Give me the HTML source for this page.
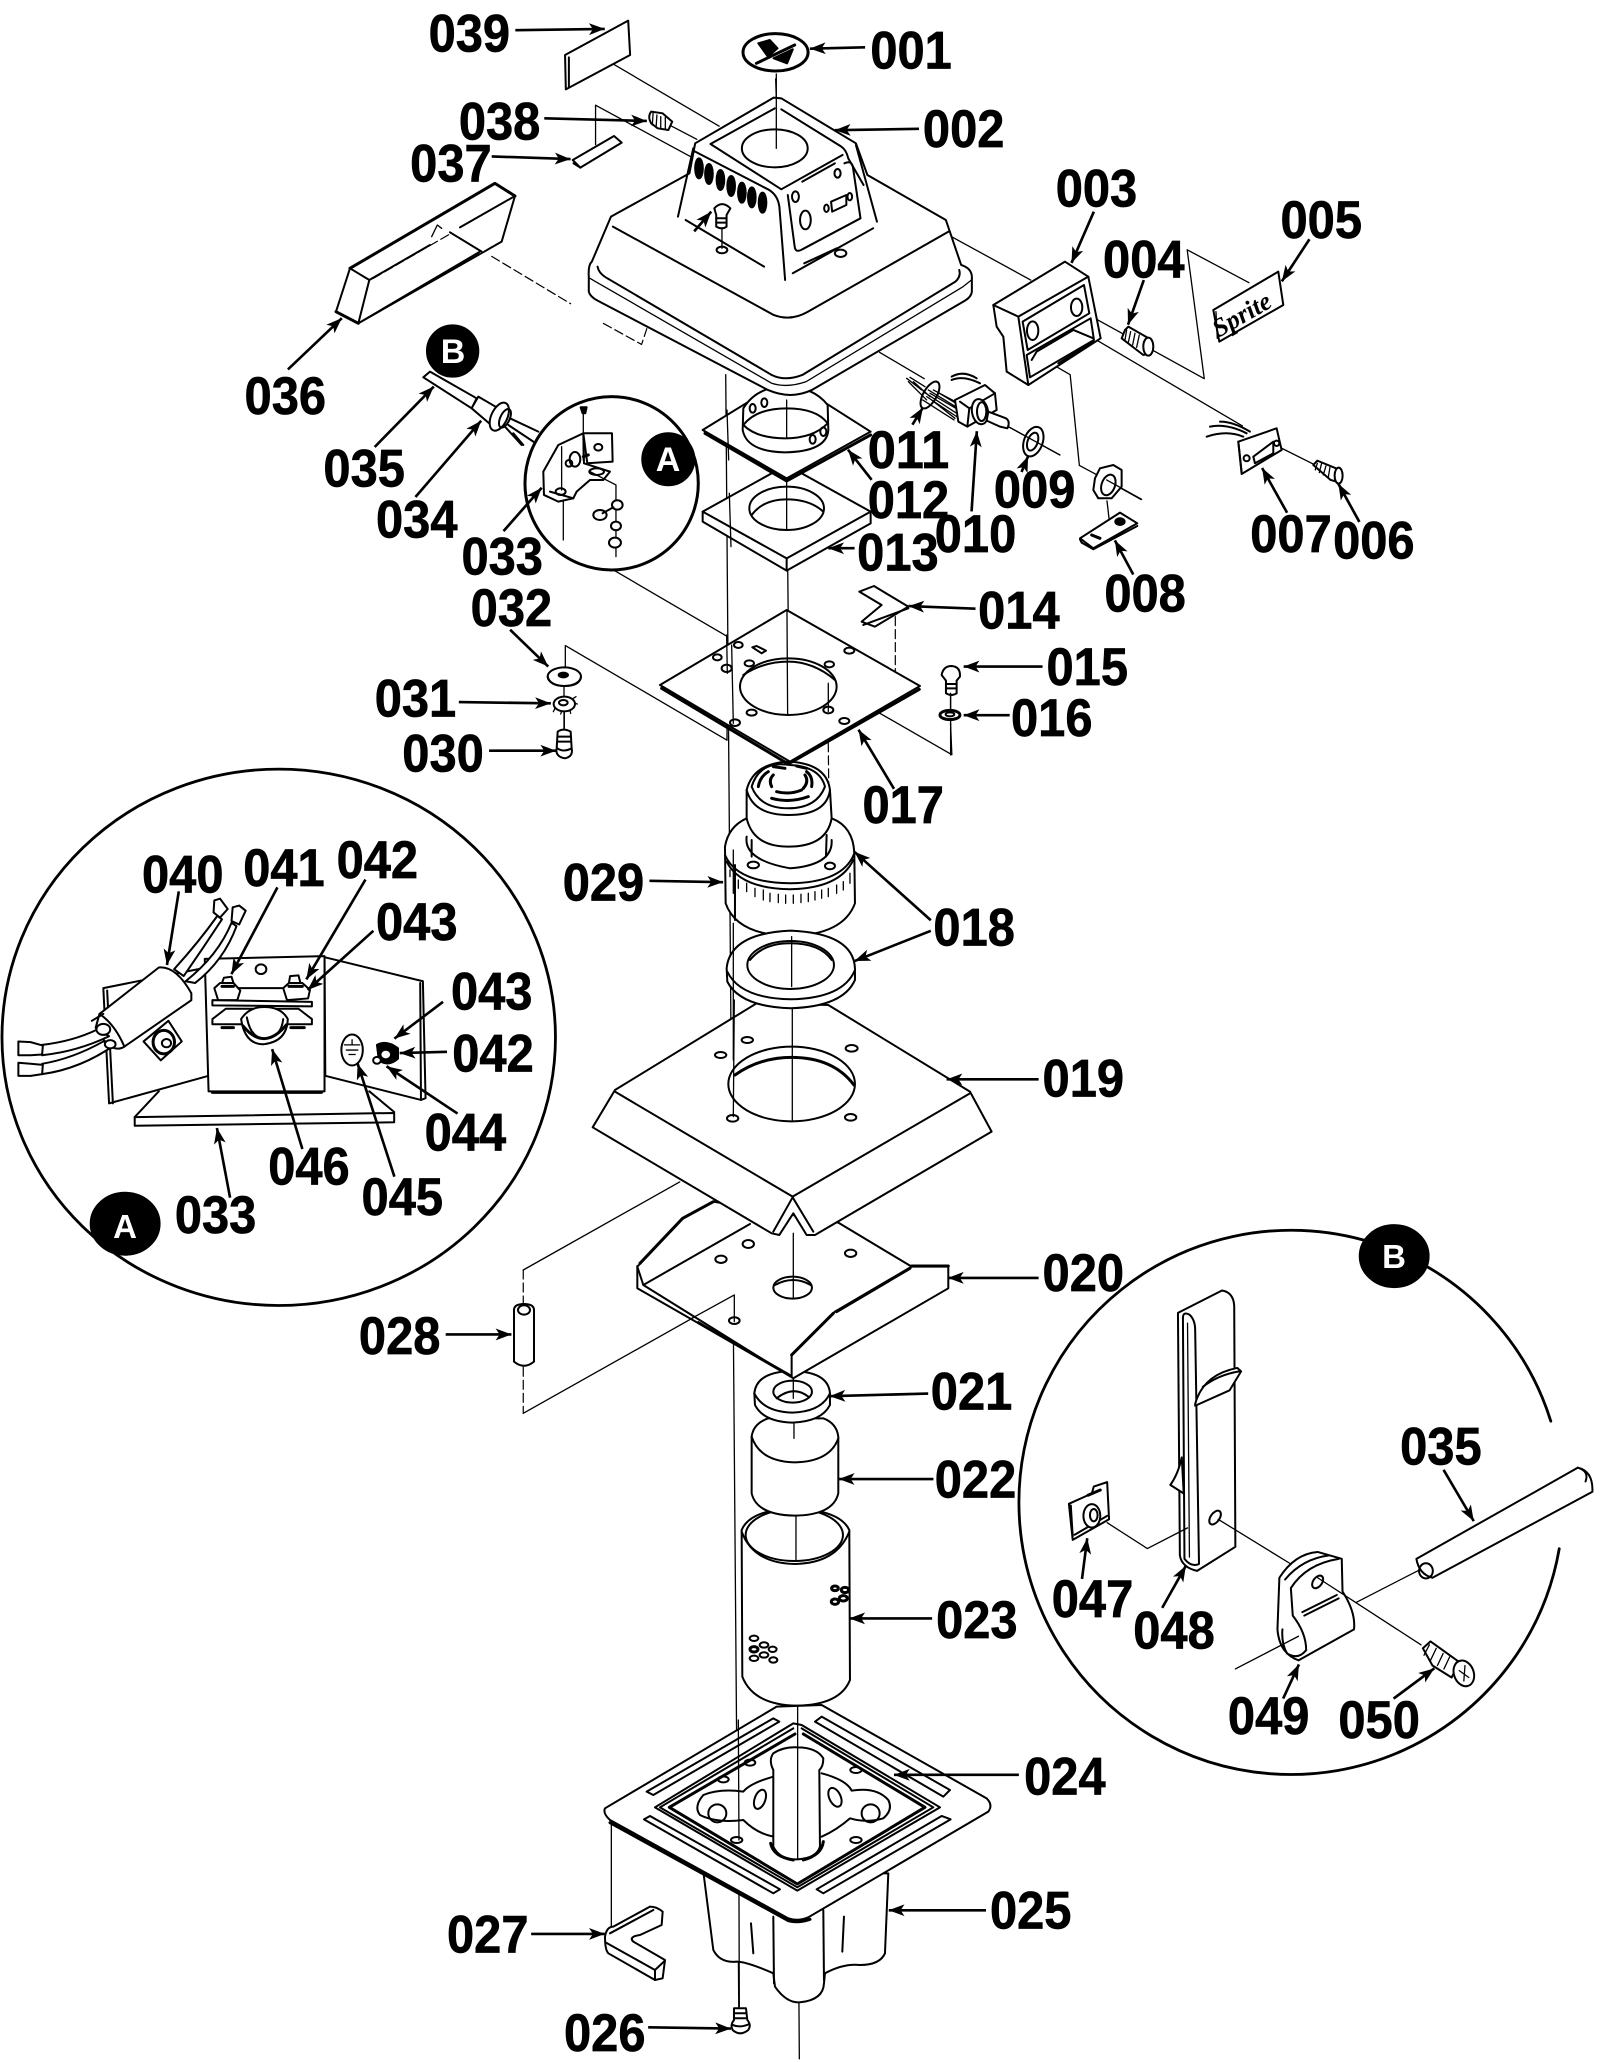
<!DOCTYPE html>
<html><head><meta charset="utf-8"><title>Exploded parts diagram</title>
<style>
html,body{margin:0;padding:0;background:#fff}
svg{display:block}
.p{fill:none;stroke:#000;stroke-width:2;stroke-linejoin:round;stroke-linecap:round}
.p *{vector-effect:non-scaling-stroke}
.p .w{fill:#fff}.p .b{fill:#000}.p .t{stroke-width:1.3}.p .k{stroke-width:3}.p .d{stroke-dasharray:9 4;stroke-width:1.2}
.a line{stroke:#000;stroke-width:2;marker-end:url(#ah)}
.l text{font:bold 40px "Liberation Sans",sans-serif;fill:#000;stroke:#000;stroke-width:.5}
.bd{font:bold 34px "Liberation Sans",sans-serif;fill:#fff;text-anchor:middle}
</style></head><body>
<svg xmlns="http://www.w3.org/2000/svg" width="1600" height="2062" viewBox="0 0 1600 2062">
<defs><marker id="ah" markerUnits="userSpaceOnUse" markerWidth="13" markerHeight="10" refX="12" refY="5" orient="auto"><path d="M0,0.5L12,5L0,9.5L3,5Z" fill="#000"/></marker></defs>
<rect width="1600" height="2062" fill="#fff"/>

<g class="p" transform="scale(1.3147)">
<path class="t" d="M552,285L562,1535"/>
<path class="t" d="M590,60L598,314L602,720L608,1566"/>
<path class="t" d="M455,42L547,96M453,110L453,80L525,119M509,95L530,106M636,132L784,213M669,268L703,288"/>
<path class="d" d="M342,177L366,191M374,195L434,231M459,246L488,262L492,250"/>
<path class="t" d="M818,234L916,288L903,190L950,215M821,251L945,324M973,340L1001,354M766,324L806,346"/>
<path class="t" d="M783,267L814,285L821,354L834,361M841,365L868,380M842,381L844,398"/>
<path class="t" d="M428,385L428,411L553,484L553,512M430,512L430,491L553,563L553,548M429,522L429,555"/>
<path class="t" d="M630,520L724,574L723,550M723,527L723,544"/>
<path class="d" d="M630,565L631,657M681,469L681,517"/>
<path class="t" d="M517,899L398,966"/><path class="d" d="M398,966L398,994"/>
<path class="d" d="M398,1040L398,1075"/><path class="t" d="M398,1075L558,985L558,1005"/>
<path class="t" d="M465,1384L465,1466"/>
</g>

<g class="p" transform="translate(680,380) scale(.3333)">
<path class="w" d="M68,395L320,255L572,395L572,430L320,572L68,425Z"/>
<path d="M68,395L320,535L572,395M320,535L320,572"/>
<ellipse class="w" cx="320" cy="385" rx="112" ry="65"/>
<path d="M215,405Q250,358 320,358Q390,358 430,395"/>
<path class="t" d="M320,300L320,450M148,340L153,500"/>
<path class="w" d="M68,150L320,-5L572,155L320,295Z"/>
<path class="k" d="M75,160L320,303L572,165"/>
<path class="t" d="M141,90L146,240"/>
<path class="w" d="M190,85L188,150Q200,215 315,217Q440,215 445,150L443,75Q400,20 315,20Q230,20 190,85Z"/>
<path d="M190,135Q230,85 320,85Q410,85 443,130M190,135Q230,175 315,175Q400,175 443,130"/>
<ellipse cx="218" cy="85" rx="9" ry="13"/><ellipse cx="253" cy="68" rx="9" ry="13"/><ellipse cx="398" cy="178" rx="9" ry="13"/><ellipse cx="430" cy="155" rx="9" ry="13"/>
<path class="t" d="M320,60L320,175"/>
</g>

<g class="p" transform="translate(500,0) scale(.3827,.3333)">
<path class="w" d="M170,165L335,62L340,165L172,268Z"/><path d="M180,172L180,262"/>
<path class="w" d="M190,480L298,408L318,428L210,503Z"/><path d="M192,490L210,503"/>
<path class="w" d="M395,335Q385,350 395,370L412,385L440,390L450,365L425,340Z"/>
<path class="t" d="M400,340L398,375M410,345L408,380M420,350L420,385M432,352L432,388"/>
<path class="w" d="M240,785L290,650L495,520L510,430L715,293L735,295L930,430L960,525L1165,660L1205,795Q1232,805 1233,830L1233,875Q1232,890 1215,902L815,1170Q760,1200 700,1170L255,902Q235,890 232,875L232,830Q230,795 240,785Z"/>
<path d="M295,680L715,945Q760,965 805,935L1172,695"/>
<path d="M255,800Q258,822 285,838L710,1125Q745,1145 790,1125L1190,845Q1205,830 1200,810"/>
<path class="t" d="M235,835L250,845L710,1150Q750,1165 800,1145L1210,860L1232,840"/>
<path d="M505,445L465,650M505,452L695,565Q725,580 730,620L745,840M930,435L985,665"/>
<path d="M550,432L718,325M735,328L892,440Q905,450 910,475L950,555M550,432L735,568L895,465"/>
<path d="M752,585L770,740Q772,760 790,748L942,655L922,500Q918,480 900,490"/>
<path d="M790,545L875,490M795,790L880,745M765,820L975,685M485,660L690,800"/>
<ellipse class="w" cx="718" cy="445" rx="86" ry="57"/>
<path class="t" d="M722,222L722,445"/>
<g class="b"><ellipse cx="520" cy="505" rx="10" ry="30"/><ellipse cx="546" cy="522" rx="10" ry="30"/><ellipse cx="576" cy="540" rx="10" ry="30"/><ellipse cx="604" cy="558" rx="10" ry="30"/><ellipse cx="632" cy="578" rx="10" ry="30"/><ellipse cx="658" cy="592" rx="10" ry="30"/><ellipse cx="686" cy="608" rx="10" ry="30"/></g>
<ellipse cx="772" cy="590" rx="9" ry="16"/><ellipse cx="798" cy="660" rx="14" ry="28"/><ellipse cx="853" cy="625" rx="6" ry="11"/><path d="M865,605L905,585L905,615L868,635Z"/><ellipse cx="914" cy="590" rx="6" ry="11"/><ellipse cx="882" cy="520" rx="8" ry="13"/>
<ellipse cx="890" cy="760" rx="15" ry="11"/><ellipse cx="580" cy="750" rx="14" ry="10"/><path class="t" d="M580,680L580,745"/>
<path class="w" d="M560,625Q580,600 602,625L592,645L592,680Q580,690 565,680L565,645Z"/><path d="M565,655L592,655M565,668L592,668"/>
<ellipse class="w k" cx="720" cy="157" rx="85" ry="56"/>
<path class="k" d="M670,190L770,135"/><path class="b" d="M675,130L705,120L725,145L700,170ZM715,175L765,148L750,190Z"/>
</g>

<g class="p" transform="translate(230,170) scale(.3333)">
<path class="w" d="M360,295L795,40L855,78L815,215L385,460L318,425Z"/>
<path class="k" d="M360,295L795,40L855,78M318,425L385,460"/>
<path d="M360,295L418,330L385,460"/><path class="w" stroke="none" d="M680,175L660,190L750,250L780,230Z"/>
<path d="M418,330L600,225M690,172L855,78M660,187L755,245M750,245L385,460"/>
<path class="t" d="M605,200L622,165L635,175"/>
<path class="d" d="M430,325L660,192"/>
<path class="w" d="M580,622L600,605L740,685L725,715Z"/>
<path class="w" d="M725,715L745,680L800,712L780,762Z"/>
<ellipse class="w" cx="808" cy="740" rx="24" ry="45" transform="rotate(25 808 740)"/>
<ellipse cx="825" cy="745" rx="14" ry="30" transform="rotate(25 825 745)"/>
<path d="M840,745L925,785M835,765L910,815M825,770L875,825M850,790L880,825"/>
<circle class="w k" cx="1145" cy="940" r="260"/>
<path class="w" d="M1060,790L1146,790L1148,875L1072,880Z"/><ellipse cx="1105" cy="832" rx="12" ry="10"/>
<path class="w" d="M985,825L1060,790L1062,880L1140,905L1120,930L1080,930L1040,965L1030,985L985,995L942,975L940,905Z"/>
<path d="M960,965L1030,985"/><ellipse cx="992" cy="965" rx="15" ry="10"/><ellipse cx="1100" cy="905" rx="22" ry="10"/>
<ellipse class="w" cx="1035" cy="868" rx="16" ry="22"/><circle cx="1017" cy="880" r="10"/><path class="k" d="M1060,860L1075,855"/>
<path class="t" d="M1060,715L1060,870M995,830L995,960M1080,905L1158,945L1158,1160M1000,990L1000,1110"/>
<path class="b" d="M1052,712L1070,712L1066,730L1058,730Z"/>
<g class="w"><ellipse cx="1162" cy="1005" rx="16" ry="14"/><ellipse cx="1110" cy="1035" rx="20" ry="15"/><ellipse cx="1158" cy="1068" rx="15" ry="13"/><ellipse cx="1155" cy="1118" rx="18" ry="15"/></g>
<path d="M1118,1030L1150,1012"/>
<circle class="b" cx="668" cy="543" r="77"/><circle class="b" cx="1315" cy="868" r="78"/>
</g>
<text class="bd" x="453" y="363">B</text><text class="bd" x="668" y="471">A</text>

<g class="p" transform="translate(880,170) scale(.3333)">
<path class="w" d="M340,405L555,275L625,320L662,505L445,645L380,605L370,500L350,470Z"/>
<path d="M340,405L415,440L625,320M415,440L445,645"/>
<path d="M428,455L612,345L628,430L443,540ZM440,555L632,445L642,510L450,622Z"/>
<path d="M470,545L580,480L640,505M535,580L640,515M455,570L470,545"/>
<ellipse cx="458" cy="482" rx="17" ry="28"/><ellipse cx="590" cy="412" rx="17" ry="26"/>
<path class="w" d="M735,480L745,470L815,510L810,550L790,555L725,505Z"/>
<path class="t" d="M740,480L735,510M752,485L745,518M765,490L758,525M778,495L770,532"/>
<ellipse class="w" cx="805" cy="530" rx="15" ry="27"/>
<path class="w" d="M1000,420L1195,305L1210,405L1018,515Z"/><path class="t" d="M1008,425L1012,505"/>
<path class="t" d="M80,625L125,660M90,622L135,650M100,635L150,680M85,635L140,690M130,665L230,730M145,660L235,715M155,690L225,745M170,665L245,710M140,680L230,740M150,670L240,722M160,660L245,705M128,690L222,750"/>
<ellipse cx="150" cy="675" rx="20" ry="45" transform="rotate(30 150 675)"/>
<path class="w" d="M225,690L315,645L345,670L350,720L262,770L235,755Z"/>
<path d="M240,695L268,715L262,770M268,715L345,670M215,630Q250,615 300,640M215,620Q250,600 290,625"/>
<ellipse class="w" cx="300" cy="725" rx="24" ry="38" transform="rotate(-10 300 725)"/><ellipse cx="305" cy="725" rx="14" ry="28"/>
<path class="w" d="M325,725L378,745Q392,755 382,775L360,770L320,752Z"/>
<ellipse class="w" cx="460" cy="815" rx="28" ry="46" transform="rotate(20 460 815)"/><ellipse cx="458" cy="815" rx="15" ry="28" transform="rotate(20 458 815)"/>
<path class="t" d="M385,770L540,855"/>
<path class="w" d="M645,925L660,895L700,885L725,900L725,950L695,985L655,985L640,960Z"/><ellipse cx="685" cy="945" rx="20" ry="32" transform="rotate(20 685 945)"/>
<path class="t" d="M680,930L785,988"/>
<path class="w" d="M600,1105L720,1028L772,1060L640,1135Z"/><path d="M600,1108L605,1118L640,1138L772,1068"/>
<ellipse class="b" cx="720" cy="1055" rx="14" ry="10"/><path class="k" d="M635,1095L660,1105"/>
<path class="w" d="M1075,815L1190,775L1205,840L1085,912Z"/><path d="M1075,815L1085,905M1120,860L1180,815L1180,850L1125,880Z"/>
<path d="M980,800Q1040,780 1090,800M990,770Q1040,760 1100,790M1020,755Q1060,755 1110,785"/>
<circle cx="1100" cy="865" r="9"/><circle cx="1190" cy="820" r="8"/>
<path class="w" d="M1300,885L1312,872L1380,900L1370,935L1352,930Z"/>
<path class="t" d="M1312,880L1306,900M1325,880L1318,908M1338,888L1330,915M1350,892L1345,922"/>
<ellipse class="w" cx="1376" cy="917" rx="12" ry="24"/>
</g>
<text transform="translate(1246,322) rotate(-30)" font-family="Liberation Serif,serif" font-style="italic" font-weight="bold" font-size="26" text-anchor="middle">Sprite</text>

<g class="p" transform="translate(560,1400) scale(.3333)">
<path class="w" d="M545,390Q570,330 700,325Q840,330 868,390L870,840Q840,915 710,917Q580,915 547,830Z"/>
<ellipse cx="703" cy="405" rx="146" ry="78"/><path d="M545,395Q580,490 705,492Q830,490 868,395"/>
<path class="t" d="M708,350L708,480"/>
<ellipse cx="582" cy="715" rx="13" ry="8"/><ellipse cx="612" cy="735" rx="13" ry="8"/><ellipse cx="638" cy="748" rx="12" ry="8"/><ellipse class="k" cx="582" cy="748" rx="12" ry="8"/><ellipse cx="612" cy="765" rx="13" ry="8"/><ellipse cx="582" cy="775" rx="13" ry="8"/><ellipse cx="640" cy="780" rx="12" ry="8"/>
<ellipse class="k" cx="825" cy="565" rx="10" ry="7"/><ellipse class="k" cx="855" cy="570" rx="11" ry="8"/><ellipse class="k" cx="850" cy="595" rx="12" ry="8"/><ellipse class="k" cx="825" cy="605" rx="11" ry="8"/>
<path class="w" d="M575,110Q580,70 625,55L790,55Q830,70 835,110L835,280Q820,345 705,347Q590,345 575,280Z"/>
<path d="M575,110Q600,185 705,187Q810,185 835,115"/><path class="t" d="M702,65L702,115"/>
</g>

<g class="p" transform="translate(500,1000) scale(.3333)">
<path class="w" d="M42,930Q42,912 72,912Q102,912 102,930L102,1085Q72,1110 42,1085Z"/><ellipse cx="72" cy="930" rx="18" ry="14"/>
<path class="w" d="M763,1180Q770,1115 877,1113Q985,1115 990,1180L990,1215Q965,1265 877,1268Q790,1265 765,1215Z"/>
<path d="M763,1180Q790,1235 877,1238Q965,1235 990,1180"/>
<ellipse cx="878" cy="1175" rx="58" ry="33"/><path d="M830,1195Q880,1155 925,1190"/><path class="t" d="M880,1135L880,1195"/>
<path class="w" d="M430,855L412,800L545,658L640,605L1015,668L1235,800L1345,800L1345,865L880,1135Z"/>
<path d="M412,798L412,865L875,1130"/><path d="M430,855L750,672M1005,935L875,1065L875,1130M1005,935L1235,800"/>
<path class="k" d="M420,790L548,655L640,605M1235,798L1345,798M1010,935L1230,805M875,1065L1000,940"/>
<ellipse cx="745" cy="732" rx="17" ry="12"/><ellipse cx="663" cy="778" rx="17" ry="11"/><ellipse cx="1052" cy="760" rx="17" ry="11"/><ellipse cx="703" cy="962" rx="16" ry="10"/>
<ellipse cx="878" cy="863" rx="58" ry="33"/><path d="M825,855Q880,825 932,855"/>
<path class="t" d="M880,700L880,895M570,958L703,885L703,965"/>
<path class="k" d="M595,968L872,1128"/>
<path class="w" d="M345,270L770,10L985,15L1410,275L1475,395L945,705L920,705L880,640L838,705L815,700L278,382Z"/>
<path d="M345,275L878,590L1410,280M878,592L820,695M878,592L940,695"/>
<ellipse cx="742" cy="120" rx="17" ry="9"/><ellipse cx="662" cy="165" rx="17" ry="9"/><ellipse cx="1055" cy="145" rx="18" ry="10"/><ellipse cx="698" cy="355" rx="17" ry="10"/><ellipse cx="1052" cy="352" rx="17" ry="10"/>
<ellipse cx="875" cy="252" rx="190" ry="112"/><path class="k" d="M705,225Q780,172 875,172Q1000,172 1062,255"/>
<path class="t" d="M877,25L877,360M703,0L700,350"/>
</g>

<g class="p" transform="translate(520,560) scale(.3333)">
<path class="w" d="M615,860Q625,800 680,775L680,690Q700,610 805,605Q920,610 930,690L935,775Q1000,800 1003,880L1005,1030Q970,1125 810,1128Q650,1125 617,1030Z"/>
<path d="M680,775Q700,860 805,860Q920,860 935,775M680,690Q700,765 805,765Q920,765 930,690"/>
<path d="M695,680Q720,600 810,615Q900,620 915,680Q890,745 805,745Q720,745 695,680Z"/>
<path d="M680,830Q670,900 810,925Q940,915 935,840M695,840L695,890M920,825L918,890"/>
<path d="M615,885Q650,968 810,970Q970,968 1003,880M620,905Q660,985 810,988Q960,985 1000,900"/>
<path d="M645,915L645,1080"/>
<ellipse cx="700" cy="915" rx="17" ry="10"/><ellipse cx="930" cy="918" rx="15" ry="10"/>
<path class="t" d="M630,930L630,950M655,960L655,985M680,970L680,995M705,985L705,1010M730,990L730,1020M750,1000L750,1025M775,1003L775,1028M797,1005L797,1030M820,1005L820,1030M843,1003L843,1028M865,1000L865,1025M885,995L885,1020M905,990L905,1015M925,985L925,1010M950,975L950,1000M970,965L970,990M990,940L990,970"/>
<path class="k" d="M760,620L795,625M830,618L860,625M770,695Q810,705 845,690M755,715Q810,730 865,710M715,680Q720,650 745,635M755,680Q745,660 760,645M875,680Q880,650 860,635M850,685Q868,665 855,645"/>
<path class="w" d="M620,1225Q630,1120 812,1112Q1000,1120 1005,1225L1005,1260Q970,1340 812,1345Q660,1340 622,1265Z"/>
<path d="M622,1235Q660,1315 812,1318Q970,1315 1005,1230"/>
<ellipse class="w" cx="812" cy="1215" rx="130" ry="72"/><path d="M690,1200Q730,1150 810,1150Q900,1150 935,1200"/>
<path class="t" d="M815,1130L815,1280M640,1090L640,1500M640,870L640,1000"/>
<path class="w" d="M1018,95L1062,78L1165,140L1065,200L1025,185L1085,135Z"/><path d="M1030,195L1165,145"/>
<path class="w" d="M420,375L800,150L1200,378L810,605Z"/>
<path class="k" d="M425,385L805,612L1198,388"/>
<ellipse class="w" cx="805" cy="380" rx="145" ry="85"/><path d="M670,345Q730,305 805,305Q880,305 945,360"/>
<path class="t" d="M801,150L803,465M620,225L622,340M925,370L925,455M635,255L640,490"/>
<ellipse cx="655" cy="255" rx="13" ry="9"/><path d="M697,262L710,258L738,272L725,280Z"/><ellipse cx="592" cy="292" rx="13" ry="9"/><ellipse cx="620" cy="325" rx="15" ry="11"/><ellipse cx="688" cy="310" rx="14" ry="9"/><ellipse cx="928" cy="313" rx="14" ry="9"/><ellipse cx="988" cy="272" rx="15" ry="9"/><ellipse cx="695" cy="458" rx="15" ry="9"/><ellipse cx="925" cy="450" rx="15" ry="10"/><ellipse cx="645" cy="488" rx="15" ry="10"/><ellipse cx="973" cy="483" rx="15" ry="9"/>
<ellipse class="w" cx="133" cy="350" rx="50" ry="28"/><ellipse class="b" cx="130" cy="345" rx="14" ry="7"/><path d="M83,350Q90,378 133,378Q180,378 183,350"/>
<ellipse class="w" cx="133" cy="432" rx="32" ry="22"/><ellipse cx="130" cy="428" rx="13" ry="8"/><path class="t" d="M105,445L100,455M125,455L122,462M150,450L152,460M165,430L172,432M160,415L168,410M133,458L133,505"/>
<path class="w" d="M113,515Q130,503 152,515L155,565Q160,590 135,595Q105,590 110,565Z"/><path d="M113,530L152,530M113,545L152,545M112,565Q130,578 155,565"/>
<path class="w" d="M1265,345Q1270,318 1295,318Q1322,320 1320,350L1310,362L1310,400Q1295,410 1278,400L1278,362Z"/><path d="M1278,372L1310,372M1278,385L1310,385"/>
<ellipse class="w k" cx="1290" cy="465" rx="30" ry="14"/><ellipse cx="1290" cy="463" rx="13" ry="6"/>
<path class="t" d="M1292,400L1292,450M1292,482L1292,585"/>
</g>

<g class="p" transform="translate(560,1720) scale(.3333)">
<path class="w" d="M430,455L460,690Q480,730 530,725Q560,725 640,760L645,800Q680,850 720,847Q790,840 792,790L795,760Q850,730 900,735Q960,735 975,700L985,460Z"/>
<path d="M640,590L642,790M790,570L792,780M573,610L580,700M852,590L847,695"/>
<path class="w" d="M650,-40L135,265Q128,280 150,300L685,595Q715,605 745,592L1285,275Q1300,255 1280,235L785,-45Z"/>
<path class="k" d="M150,308L685,602Q715,610 750,598"/>
<path class="w" d="M260,215L640,-5L658,5L280,225Z"/><path class="w" d="M765,5L785,-10L1170,210L1150,230Z"/><path class="w" d="M252,298L270,288L660,508L640,520Z"/><path class="w" d="M770,508L1145,288L1172,298L790,520Z"/>
<path class="w" d="M700,10L285,262L712,512L1140,262L725,15Z"/>
<path class="k" d="M705,42L328,262L712,492L1095,262L730,42"/>
<path d="M700,25L300,262L712,502L1120,262L725,25"/>
<path d="M640,170Q570,190 550,215Q480,205 430,225Q400,260 420,285Q470,310 550,300Q590,340 640,350"/>
<path d="M785,160Q860,180 875,212Q950,200 985,240Q1000,270 970,295Q920,310 870,295Q830,330 785,350"/>
<ellipse cx="600" cy="238" rx="16" ry="30" transform="rotate(20 600 238)"/><ellipse cx="825" cy="232" rx="17" ry="30" transform="rotate(-25 825 232)"/>
<circle cx="472" cy="280" r="27"/><circle cx="932" cy="280" r="27"/>
<ellipse cx="570" cy="128" rx="16" ry="9"/><ellipse cx="888" cy="150" rx="17" ry="9"/><ellipse cx="490" cy="178" rx="16" ry="9"/><ellipse cx="530" cy="360" rx="17" ry="9"/><ellipse cx="888" cy="360" rx="17" ry="9"/>
<path class="w" d="M640,380L640,150Q625,120 640,100Q670,80 712,82Q770,82 790,115Q790,140 778,150L780,380Q770,415 712,418Q660,420 640,380Z"/>
<path class="k" d="M632,370Q640,410 700,420M790,365Q785,405 730,420"/>
<path class="t" d="M713,-40L713,415M535,0L537,360M537,520L538,860"/>
<path class="w" d="M135,650Q140,620 160,620L270,560Q290,560 308,575L305,615L240,645Q205,650 220,665L315,720L308,775L285,780L145,700Q135,690 135,650Z"/>
<path d="M138,668L285,750L285,780M285,750L315,722M150,640L280,570"/>
<path class="w" d="M522,865L558,865L562,900Q575,915 565,930Q540,950 518,930Q510,915 522,900Z"/>
<path d="M522,880L558,880M522,895L558,895M518,915Q540,925 568,912"/>
</g>

<g class="p" transform="scale(1.3147)"><ellipse cx="212" cy="789" rx="210.5" ry="204" style="stroke-width:2.8"/>
<path style="stroke-width:2.8" d="M1186,1178A207,207 0 1 1 1179.6,1081"/></g>

<g class="p" transform="translate(0,780) scale(.3827,.344)">
<path d="M352,980L415,905M965,905L1030,965"/>
<path class="w" d="M352,980L1030,968L1030,995L352,1005Z"/>
<path class="w" d="M270,605L540,545L545,860L285,940Z"/><path d="M280,612L295,940"/>
<path class="w" d="M848,515L1105,585L1112,925L1100,930L850,860Z"/><path d="M1098,590L1100,930"/>
<path class="w" d="M535,520L848,512L848,905L545,905Z"/>
<path class="k" d="M555,908L840,908"/>
<circle cx="682" cy="550" r="14"/>
<path class="w" d="M375,760L440,700L475,760L420,815Z"/><ellipse class="k" cx="428" cy="762" rx="28" ry="34"/><circle cx="435" cy="765" r="12"/>
<path class="w" d="M455,550Q520,470 568,395L580,405Q530,490 480,570ZM485,585Q570,510 605,415L618,425Q585,525 510,590Z"/>
<path class="w" d="M560,350L575,345L595,375L575,400L558,385Z"/><path class="w" d="M608,370L625,365L642,380L625,420L605,410Z"/>
<path class="w" d="M260,680L415,545Q460,540 500,620L500,640L325,775Q290,800 250,720Z"/>
<path d="M260,680Q300,710 325,775M270,680L240,700"/>
<path class="w" d="M255,725Q190,760 110,770L110,800Q200,790 285,745Z"/><path class="w" d="M270,760Q190,810 110,825L110,855Q210,840 300,770Z"/>
<path class="w" d="M48,760L80,762L112,772L110,798L80,800L48,800ZM48,822L80,825L112,828L110,855L80,860L48,860Z"/>
<ellipse class="w" cx="270" cy="725" rx="18" ry="16"/><ellipse class="w" cx="288" cy="768" rx="14" ry="12"/>
<path class="w" d="M555,695L590,665L780,665L815,695L815,710L555,710Z"/>
<path class="w" d="M555,640L815,645L815,658L555,655Z"/>
<path d="M590,605L750,605"/>
<path class="w" d="M560,605L575,590L610,590L628,612L620,640L570,640Z"/><path class="w" d="M740,605L755,590L790,590L810,610L805,635L750,640Z"/>
<path class="w" d="M585,575L605,572L610,590L580,590Z"/><path class="w" d="M758,570L780,568L785,590L755,590Z"/>
<path class="k" d="M580,600L610,600M755,600L790,600M580,720L610,720M760,720L795,720"/>
<path class="w" d="M630,695Q640,770 690,768Q750,760 752,695Q735,660 690,660Q650,660 630,695Z"/>
<path d="M645,690Q655,750 690,752Q735,750 740,695"/><path class="k" d="M635,715Q690,790 748,712"/>
<ellipse cx="920" cy="785" rx="28" ry="45"/><path class="t" d="M900,770L940,770M905,785L935,785M912,798L928,798M920,755L920,770"/>
<path class="b" d="M985,770Q1010,755 1040,780L1040,810Q1015,835 990,815Z"/>
<circle class="w" cx="1008" cy="798" r="14"/><circle class="w" cx="985" cy="815" r="10"/>
<circle class="b" cx="327" cy="1290" r="90"/>
</g>
<text class="bd" x="125" y="1238" style="font-size:33px">A</text>

<g class="p" transform="translate(1000,1220) scale(.3827,.344)">
<path class="w" d="M465,270L580,205Q610,210 612,250L615,950L515,1020Q475,1010 470,975Z"/>
<path d="M478,285Q478,265 495,275Q510,290 510,320L520,1000Q500,1010 482,985Z"/>
<path class="t" d="M490,300L495,980"/>
<path class="w" d="M510,535Q530,450 620,430L630,440L600,495L510,540Z"/><path d="M530,485Q570,450 625,440"/>
<path class="w" d="M445,770Q465,740 475,690L480,795Z"/>
<ellipse cx="562" cy="865" rx="12" ry="22" transform="rotate(30 562 865)"/>
<path class="t" d="M280,880L385,955L490,895M570,870L760,1000"/>
<path class="w" d="M180,825L240,795L245,775L280,762L285,870L190,930Z"/><path d="M185,830L190,920M195,915L280,860"/><ellipse class="w" cx="240" cy="860" rx="22" ry="34"/><ellipse cx="245" cy="858" rx="10" ry="18"/><path class="k" d="M230,800L262,785"/>
<path class="w" d="M730,1040Q770,970 830,965L893,985L895,1080Q930,1140 925,1190L780,1280Q730,1260 725,1190Z"/>
<path d="M745,1045Q790,985 860,975M760,1070Q800,1000 885,985M760,1070L765,1150Q800,1200 800,1250Q780,1280 750,1260Q735,1230 738,1190"/>
<path d="M790,1140L880,1090M795,1150L885,1100"/>
<ellipse cx="830" cy="1052" rx="12" ry="20" transform="rotate(30 830 1052)"/>
<path class="t" d="M615,1305L780,1210M930,1112L1100,1015M830,1040L1100,1235"/>
<path class="w" d="M1088,985L1510,720Q1550,730 1548,790L1130,1040Q1095,1030 1088,985Z"/>
<ellipse cx="1113" cy="1020" rx="18" ry="22"/><path d="M1510,720Q1540,730 1530,760"/>
<path class="w" d="M1105,1245L1125,1225L1200,1285L1180,1330L1130,1295Z"/>
<path class="t" d="M1122,1235L1108,1265M1140,1245L1125,1280M1158,1260L1143,1295M1175,1270L1160,1305"/>
<ellipse class="w" cx="1212" cy="1318" rx="26" ry="38" transform="rotate(-15 1212 1318)"/><path class="t" d="M1200,1310L1225,1330M1215,1295L1212,1340"/>
<circle class="b" cx="1030" cy="105" r="90"/>
</g>
<text class="bd" x="1394" y="1268" style="font-size:33px">B</text>

<g class="a" transform="scale(1.3147)">
<line x1="392" y1="23" x2="460" y2="22"/><line x1="658" y1="36" x2="616" y2="37"/><line x1="699" y1="98" x2="635" y2="99"/><line x1="414" y1="90" x2="492" y2="92"/><line x1="374" y1="119" x2="434" y2="121"/>
<line x1="528" y1="176" x2="541" y2="161"/><line x1="832" y1="161" x2="815" y2="200"/><line x1="870" y1="213" x2="858" y2="247"/><line x1="996" y1="182" x2="975" y2="214"/><line x1="219" y1="281" x2="260" y2="242"/>
<line x1="285" y1="340" x2="330" y2="294"/><line x1="316" y1="378" x2="366" y2="320"/><line x1="383" y1="404" x2="412" y2="371"/><line x1="694" y1="323" x2="702" y2="310"/><line x1="739" y1="389" x2="743" y2="328"/>
<line x1="777" y1="359" x2="782" y2="347"/><line x1="663" y1="365" x2="645" y2="342"/><line x1="650" y1="417" x2="630" y2="417"/><line x1="979" y1="390" x2="960" y2="356"/><line x1="1034" y1="397" x2="1018" y2="368"/>
<line x1="862" y1="437" x2="848" y2="411"/><line x1="742" y1="463" x2="691" y2="461"/><line x1="388" y1="479" x2="417" y2="507"/><line x1="793" y1="507" x2="733" y2="507"/><line x1="768" y1="544" x2="733" y2="544"/>
<line x1="349" y1="534" x2="419" y2="535"/><line x1="372" y1="571" x2="423" y2="571"/><line x1="680" y1="600" x2="653" y2="555"/><line x1="494" y1="670" x2="550" y2="671"/><line x1="708" y1="700" x2="650" y2="648"/>
<line x1="708" y1="708" x2="650" y2="731"/><line x1="790" y1="821" x2="720" y2="821"/><line x1="790" y1="972" x2="721" y2="972"/><line x1="339" y1="1015" x2="389" y2="1015"/><line x1="706" y1="1060" x2="631" y2="1062"/>
<line x1="710" y1="1125" x2="638" y2="1125"/><line x1="709" y1="1231" x2="646" y2="1231"/><line x1="775" y1="1350" x2="680" y2="1350"/><line x1="750" y1="1453" x2="676" y2="1453"/><line x1="404" y1="1471" x2="460" y2="1471"/><line x1="493" y1="1542" x2="556" y2="1543"/>
<line x1="136" y1="678" x2="127" y2="734"/><line x1="211" y1="675" x2="176" y2="741"/><line x1="278" y1="669" x2="233" y2="745"/><line x1="284" y1="708" x2="234" y2="753"/><line x1="337" y1="762" x2="300" y2="790"/>
<line x1="340" y1="800" x2="304" y2="801"/><line x1="348" y1="847" x2="294" y2="811"/><line x1="300" y1="895" x2="272" y2="809"/><line x1="230" y1="874" x2="207" y2="798"/><line x1="175" y1="911" x2="165" y2="858"/>
<line x1="823" y1="1201" x2="827" y2="1170"/><line x1="884" y1="1223" x2="902" y2="1191"/><line x1="976" y1="1292" x2="988" y2="1266"/><line x1="1060" y1="1292" x2="1091" y2="1269"/><line x1="1098" y1="1118" x2="1121" y2="1157"/>
</g>

<g class="l" transform="scale(1.3147)">
<text x="326" y="39" textLength="62" lengthAdjust="spacingAndGlyphs">039</text>
<text x="662" y="52" textLength="62" lengthAdjust="spacingAndGlyphs">001</text>
<text x="702" y="112" textLength="62" lengthAdjust="spacingAndGlyphs">002</text>
<text x="349" y="106" textLength="62" lengthAdjust="spacingAndGlyphs">038</text>
<text x="312" y="138" textLength="62" lengthAdjust="spacingAndGlyphs">037</text>
<text x="803" y="157" textLength="62" lengthAdjust="spacingAndGlyphs">003</text>
<text x="974" y="181" textLength="62" lengthAdjust="spacingAndGlyphs">005</text>
<text x="839" y="211" textLength="62" lengthAdjust="spacingAndGlyphs">004</text>
<text x="186" y="315" textLength="62" lengthAdjust="spacingAndGlyphs">036</text>
<text x="660" y="356" textLength="62" lengthAdjust="spacingAndGlyphs">011</text>
<text x="660" y="394" textLength="62" lengthAdjust="spacingAndGlyphs">012</text>
<text x="711" y="420" textLength="62" lengthAdjust="spacingAndGlyphs">010</text>
<text x="756" y="386" textLength="62" lengthAdjust="spacingAndGlyphs">009</text>
<text x="246" y="370" textLength="62" lengthAdjust="spacingAndGlyphs">035</text>
<text x="286" y="409" textLength="62" lengthAdjust="spacingAndGlyphs">034</text>
<text x="351" y="437" textLength="62" lengthAdjust="spacingAndGlyphs">033</text>
<text x="652" y="434" textLength="62" lengthAdjust="spacingAndGlyphs">013</text>
<text x="951" y="420" textLength="62" lengthAdjust="spacingAndGlyphs">007</text>
<text x="1014" y="425" textLength="62" lengthAdjust="spacingAndGlyphs">006</text>
<text x="840" y="465" textLength="62" lengthAdjust="spacingAndGlyphs">008</text>
<text x="744" y="478" textLength="62" lengthAdjust="spacingAndGlyphs">014</text>
<text x="358" y="476" textLength="62" lengthAdjust="spacingAndGlyphs">032</text>
<text x="796" y="521" textLength="62" lengthAdjust="spacingAndGlyphs">015</text>
<text x="769" y="560" textLength="62" lengthAdjust="spacingAndGlyphs">016</text>
<text x="285" y="545" textLength="62" lengthAdjust="spacingAndGlyphs">031</text>
<text x="306" y="587" textLength="62" lengthAdjust="spacingAndGlyphs">030</text>
<text x="656" y="626" textLength="62" lengthAdjust="spacingAndGlyphs">017</text>
<text x="428" y="685" textLength="62" lengthAdjust="spacingAndGlyphs">029</text>
<text x="710" y="719" textLength="62" lengthAdjust="spacingAndGlyphs">018</text>
<text x="793" y="834" textLength="62" lengthAdjust="spacingAndGlyphs">019</text>
<text x="108" y="679" textLength="62" lengthAdjust="spacingAndGlyphs">040</text>
<text x="185" y="674" textLength="62" lengthAdjust="spacingAndGlyphs">041</text>
<text x="256" y="668" textLength="62" lengthAdjust="spacingAndGlyphs">042</text>
<text x="286" y="715" textLength="62" lengthAdjust="spacingAndGlyphs">043</text>
<text x="343" y="768" textLength="62" lengthAdjust="spacingAndGlyphs">043</text>
<text x="344" y="815" textLength="62" lengthAdjust="spacingAndGlyphs">042</text>
<text x="323" y="875" textLength="62" lengthAdjust="spacingAndGlyphs">044</text>
<text x="204" y="901" textLength="62" lengthAdjust="spacingAndGlyphs">046</text>
<text x="275" y="924" textLength="62" lengthAdjust="spacingAndGlyphs">045</text>
<text x="133" y="938" textLength="62" lengthAdjust="spacingAndGlyphs">033</text>
<text x="793" y="982" textLength="62" lengthAdjust="spacingAndGlyphs">020</text>
<text x="273" y="1030" textLength="62" lengthAdjust="spacingAndGlyphs">028</text>
<text x="708" y="1072" textLength="62" lengthAdjust="spacingAndGlyphs">021</text>
<text x="711" y="1139" textLength="62" lengthAdjust="spacingAndGlyphs">022</text>
<text x="712" y="1246" textLength="62" lengthAdjust="spacingAndGlyphs">023</text>
<text x="1065" y="1114" textLength="62" lengthAdjust="spacingAndGlyphs">035</text>
<text x="800" y="1230" textLength="62" lengthAdjust="spacingAndGlyphs">047</text>
<text x="862" y="1254" textLength="62" lengthAdjust="spacingAndGlyphs">048</text>
<text x="934" y="1319" textLength="62" lengthAdjust="spacingAndGlyphs">049</text>
<text x="1018" y="1322" textLength="62" lengthAdjust="spacingAndGlyphs">050</text>
<text x="779" y="1365" textLength="62" lengthAdjust="spacingAndGlyphs">024</text>
<text x="753" y="1467" textLength="62" lengthAdjust="spacingAndGlyphs">025</text>
<text x="340" y="1485" textLength="62" lengthAdjust="spacingAndGlyphs">027</text>
<text x="429" y="1560" textLength="62" lengthAdjust="spacingAndGlyphs">026</text>
</g>
</svg>
</body></html>
